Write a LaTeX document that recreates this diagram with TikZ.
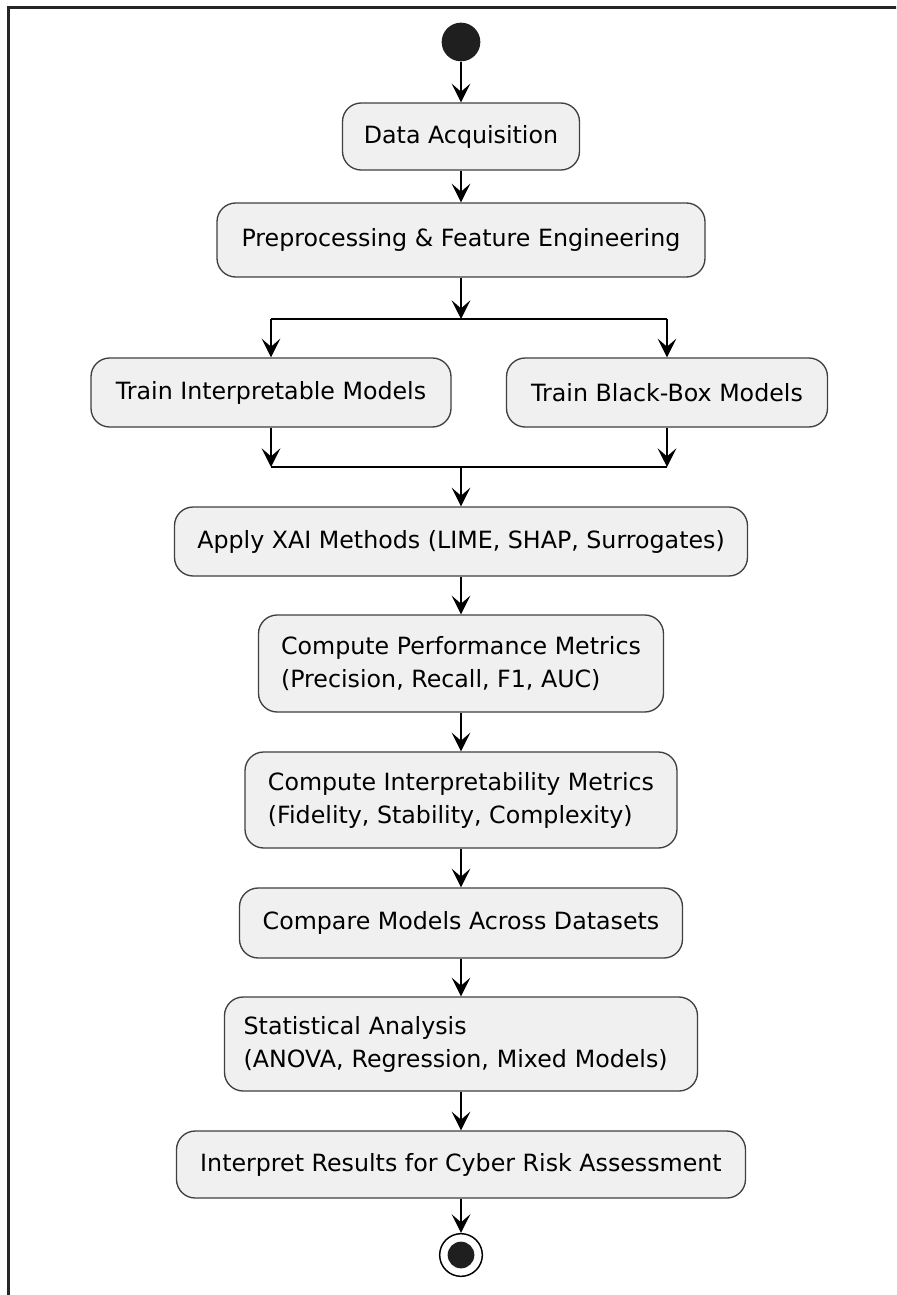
\documentclass[tikz,border=0pt]{standalone}
\usepackage{fontspec}
\setmainfont{DejaVu Sans}
\usetikzlibrary{arrows.meta,calc}

\tikzset{
  act/.style={draw=black!75, line width=1pt, fill=black!6, rounded corners=14pt,
    font=\fontsize{17.8pt}{24.75pt}\selectfont, align=left, inner xsep=10pt, inner ysep=6pt},
  flow/.style={draw=black, line width=1.3pt,
    -{Stealth[length=14pt,width=14pt,inset=6pt]}},
  bar/.style={draw=black, line width=1.6pt},
  frame/.style={draw=black!85, line width=1.6pt}
}

\begin{document}
\begin{tikzpicture}[x=0.75pt,y=-0.75pt]
  \useasboundingbox (0,0) rectangle (896,1295);
  \fill[white] (0,0) rectangle (896,1295);
  \begin{scope}
    \clip (0,0) rectangle (896,1295);
    \draw[frame] (8.5,7.5) rectangle (920,1320);
  \end{scope}

  % start state
  \node[circle, fill=black!88, minimum size=29pt, inner sep=0pt] (start) at (461,42) {};

  % activities
  \node[act, minimum width=177.75pt, minimum height=50.25pt, align=center] (da) at (461,136.5) {Data Acquisition};
  \node[act, minimum width=366pt, minimum height=55.5pt, align=center] (pp) at (461,240) {Preprocessing \& Feature Engineering};
  \node[act, minimum width=270pt, minimum height=51.75pt, align=center] (ti) at (271,392.5) {Train Interpretable Models};
  \node[act, minimum width=240.75pt, minimum height=51.75pt, align=center] (tb) at (667,392.5) {Train Black-Box Models};
  \node[act, minimum width=429.75pt, minimum height=51.75pt, align=center] (xai) at (461,541.5) {Apply XAI Methods (LIME, SHAP, Surrogates)};
  \node[act, minimum width=303.75pt, minimum height=72.75pt] (cp) at (461,663.5) {Compute Performance Metrics\\(Precision, Recall, F1, AUC)};
  \node[act, minimum width=324pt, minimum height=72pt] (ci) at (461,800) {Compute Interpretability Metrics\\(Fidelity, Stability, Complexity)};
  \node[act, minimum width=332.25pt, minimum height=52.5pt, align=center] (cm) at (461,923) {Compare Models Across Datasets};
  \node[act, minimum width=354.75pt, minimum height=70.5pt, inner xsep=14pt, text width=326pt] (sa) at (461,1044) {Statistical Analysis\\(ANOVA, Regression, Mixed Models)};
  \node[act, minimum width=426.75pt, minimum height=50.25pt, align=center] (ir) at (461,1164.5) {Interpret Results for Cyber Risk Assessment};

  % end state
  \node[circle, draw=black, line width=1.1pt, fill=white, minimum size=32pt, inner sep=0pt] (stop) at (461,1255) {};
  \node[circle, fill=black!88, minimum size=20pt, inner sep=0pt] (stopdot) at (stop.center) {};

  % fork and join bars
  \coordinate (fork) at (461,319);
  \coordinate (join) at (461,467);
  \coordinate (forkL) at (ti.north |- fork);
  \coordinate (forkR) at (tb.north |- fork);
  \coordinate (joinL) at (ti.south |- join);
  \coordinate (joinR) at (tb.south |- join);
  \draw[bar] (forkL) -- (forkR);
  \draw[bar] (joinL) -- (joinR);

  % connectors
  \draw[flow] (start) -- (da);
  \draw[flow] (da) -- (pp);
  \draw[flow] (pp) -- (fork);
  \draw[flow] (forkL) -- (ti);
  \draw[flow] (forkR) -- (tb);
  \draw[flow] (ti) -- (joinL);
  \draw[flow] (tb) -- (joinR);
  \draw[flow] (join) -- (xai);
  \draw[flow] (xai) -- (cp);
  \draw[flow] (cp) -- (ci);
  \draw[flow] (ci) -- (cm);
  \draw[flow] (cm) -- (sa);
  \draw[flow] (sa) -- (ir);
  \draw[flow] (ir) -- (stop);
\end{tikzpicture}
\end{document}
